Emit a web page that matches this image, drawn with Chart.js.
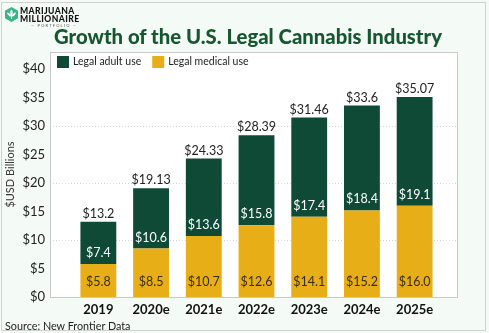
<!DOCTYPE html>
<html>
<head>
<meta charset="utf-8">
<script src="https://cdn.jsdelivr.net/npm/chart.js@4.4.1/dist/chart.umd.min.js"></script>
<style>
    html, body { margin: 0; padding: 0; }
    body { width: 489px; height: 333px; overflow: hidden; background: #fff; font-family: Lato, sans-serif; }
    #wrap { position: relative; width: 489px; height: 333px; background: #f4faf6; }
    #frame { position: absolute; left: 1px; top: 2px; width: 483px; height: 327px; border: 1px solid #cfd3d0; pointer-events: none; }
    #chart { position: absolute; left: 0; top: 0; }
    .logo { position: absolute; left: 4px; top: 6px; }
    .logo svg { position: absolute; left: 0; top: 1px; }
    .logo .l1, .logo .l2 { position: absolute; left: 16px; font-weight: 900; font-size: 8.6px; letter-spacing: 0.4px; color: #111; line-height: 8px; }
    .logo .l1 { top: 1px; }
    .logo .l2 { top: 9px; }
    .logo .l3 { position: absolute; left: 27px; top: 18px; font-size: 4px; letter-spacing: 1.2px; color: #555; line-height: 4px; white-space: nowrap; }
    #title { position: absolute; left: 0; top: 24px; width: 496px; text-align: center; font-weight: 900; font-size: 20.3px; color: #17572f; white-space: nowrap; }
    #source { position: absolute; left: 5px; top: 319px; font-size: 10.8px; color: #222; }
</style>
</head>
<body>
<div id="wrap">
    <canvas id="chart" width="489" height="333"></canvas>
    <div class="logo">
        <svg width="15" height="15" viewBox="0 0 20 20">
            <polygon points="10,0 18.7,5 18.7,15 10,20 1.3,15 1.3,5" fill="#3bb48b"/>
            <ellipse cx="10" cy="8" rx="1.6" ry="4.5" fill="#fff"/>
            <ellipse cx="6.8" cy="10" rx="1.3" ry="3.4" fill="#fff" transform="rotate(-45 6.8 10)"/>
            <ellipse cx="13.2" cy="10" rx="1.3" ry="3.4" fill="#fff" transform="rotate(45 13.2 10)"/>
            <rect x="9.5" y="12" width="1" height="4" fill="#fff"/>
        </svg>
        <div class="l1">MARIJUANA</div>
        <div class="l2">MILLIONAIRE</div>
        <div class="l3">— PORTFOLIO —</div>
    </div>
    <div id="title">Growth of the U.S. Legal Cannabis Industry</div>
    <div id="source">Source: New Frontier Data</div>
    <div id="frame"></div>
</div>
<script>
// Chart data
const years      = ['2019', '2020e', '2021e', '2022e', '2023e', '2024e', '2025e'];
const adultUse   = [7.4, 10.6, 13.6, 15.8, 17.4, 18.4, 19.1];
const medicalUse = [5.8, 8.5, 10.7, 12.6, 14.1, 15.2, 16.0];
const totals     = [13.2, 19.13, 24.33, 28.39, 31.46, 33.6, 35.07];
const yTicks     = [0, 5, 10, 15, 20, 25, 30, 35, 40];
const gridValues = [10, 20, 30];

const GREEN = '#0e4a36';
const GOLD  = '#e8ae17';

// Plot box, dotted grid, legend and value labels
const plotBox = {
    id: 'plotBox',
    beforeDatasetsDraw(chart) {
        const { ctx, chartArea, scales: { y } } = chart;
        const left = chartArea.left - 22, right = chartArea.right + 16;
        const top = y.getPixelForValue(y.max), bottom = y.getPixelForValue(0);

        ctx.save();
        ctx.fillStyle = '#fff';
        ctx.fillRect(left, top, right - left, bottom - top);

        // dotted grid lines
        ctx.strokeStyle = '#d6d6d6';
        ctx.lineWidth = 1;
        ctx.setLineDash([1, 2]);
        gridValues.forEach(v => {
            const py = Math.round(y.getPixelForValue(v)) + 0.5;
            ctx.beginPath();
            ctx.moveTo(left, py);
            ctx.lineTo(right, py);
            ctx.stroke();
        });
        ctx.setLineDash([]);

        ctx.strokeStyle = '#c9c9c9';
        ctx.strokeRect(Math.round(left) + 0.5, Math.round(top) + 0.5, Math.round(right - left), Math.round(bottom - top));

        // legend inside the box
        const items = [chart.data.datasets[1], chart.data.datasets[0]];
        let lx = left + 7;
        ctx.font = '10.5px Lato';
        ctx.textBaseline = 'middle';
        items.forEach(ds => {
            ctx.fillStyle = ds.backgroundColor;
            ctx.fillRect(lx, top + 4, 12, 12);
            ctx.fillStyle = '#222';
            ctx.fillText(ds.label, lx + 16, top + 10);
            lx += 16 + ctx.measureText(ds.label).width + 11;
        });
        ctx.restore();
    },
    afterDatasetsDraw(chart) {
        const { ctx } = chart;
        const medMeta = chart.getDatasetMeta(0);
        const adultMeta = chart.getDatasetMeta(1);

        ctx.save();
        ctx.font = '12.5px Lato';
        ctx.textAlign = 'center';
        ctx.textBaseline = 'middle';
        medMeta.data.forEach((bar, i) => {
            ctx.fillStyle = '#3b2d08';
            ctx.fillText('$' + medicalUse[i].toFixed(1), bar.x, bar.base - 15);
        });
        adultMeta.data.forEach((bar, i) => {
            ctx.fillStyle = '#fff';
            ctx.fillText('$' + adultUse[i].toFixed(1), bar.x, bar.base - 11);
            ctx.fillStyle = '#222';
            ctx.textBaseline = 'alphabetic';
            ctx.fillText('$' + String(totals[i]), bar.x, bar.y - 4);
            ctx.textBaseline = 'middle';
        });
        ctx.restore();
    }
};

new Chart(document.getElementById('chart'), {
    type: 'bar',
    data: {
        labels: years,
        datasets: [
            { label: 'Legal medical use', data: medicalUse, backgroundColor: GOLD },
            { label: 'Legal adult use', data: adultUse, backgroundColor: GREEN }
        ]
    },
    options: {
        responsive: false,
        devicePixelRatio: 1,
        animation: false,
        events: [],
        barPercentage: 0.68,
        categoryPercentage: 1,
        layout: { padding: { left: 4, right: 48, top: 52, bottom: 0 } },
        plugins: {
            legend: { display: false },
            tooltip: { enabled: false }
        },
        scales: {
            x: {
                stacked: true,
                grid: { display: false, drawTicks: false },
                border: { display: false },
                afterFit(scale) { scale.height = 36; },
                ticks: {
                    padding: 5,
                    color: '#111',
                    font: { family: 'Lato', size: 13, weight: 'bold' }
                }
            },
            y: {
                stacked: true,
                min: 0,
                max: 43,
                grid: { display: false, drawTicks: false },
                border: { display: false },
                afterFit(scale) { scale.width = 68; },
                afterBuildTicks(scale) { scale.ticks = yTicks.map(v => ({ value: v })); },
                title: {
                    display: true,
                    text: '$USD Billions',
                    color: '#333',
                    padding: 0,
                    font: { family: 'Lato', size: 11 }
                },
                ticks: {
                    padding: 27,
                    color: '#222',
                    font: { family: 'Lato', size: 13 },
                    callback: v => '$' + v
                }
            }
        }
    },
    plugins: [plotBox]
});
</script>
</body>
</html>
